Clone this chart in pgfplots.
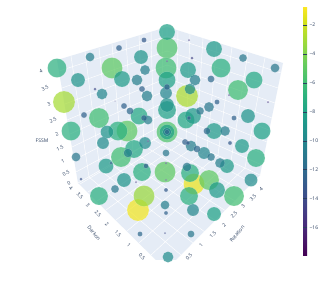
\documentclass[border=0pt]{standalone}
\usepackage{pgfplots}
\usepackage{pgfplotstable}
\usepackage{fontspec}
\setmainfont{Open Sans}
\pgfplotsset{compat=1.18}
\definecolor{pane}{HTML}{E5ECF6}
\definecolor{txt}{HTML}{2A3F5F}
\pgfplotstableread{
x y r v
138 210 11 -1
194 184 10.5 -1.2
64 102 11 -3
187 96 11 -2.8
144 196 10.5 -3.3
112 68 10.5 -5
127 131 10.5 -5
167 48 10.5 -5.5
166 68 10.5 -6
167 132 10.5 -5.5
165 172 10.5 -5
209 180 10 -5
238 90 10 -6
99 118 10 -6
234 196 10 -6
121 157 10 -6
57 68 9.5 -7
221 68 9.5 -7
71 131 9.5 -7
118 131 9.5 -7
189 196 9 -7
256 158 9 -7
99 196 9 -7
190 173 9 -7
142 172 9 -7
167 110 9 -8
134 149 9 -7.5
139 116 8.5 -7.5
186 120 8.5 -7.5
254 80 8.5 -7.5
262 131 8.5 -8
167 80 8.5 -8
167 32 8 -8
214 49 8 -8.5
188 70 8 -8.5
122 79 8 -8.5
214 131 8 -8.5
193 116 8 -8.5
217 190 8 -8.5
167 132 7.5 -8
106 166 7.5 -8.5
141 57 7 -9
78 80 7 -9
248 116 7 -9
124 180 7 -9
167 105 7 -9
214 214 7 -8
242 146 7 -8.5
227 166 7 -8.5
107 132 6.5 -9
251 180 6.5 -9.5
103 143 6 -9.5
166 93 6 -10
193 210 6 -10
204 153 6 -10
145 143 6 -9.5
137 80 5.5 -10.5
102 94 5.5 -10
147 96 5.5 -10.5
195 80 5.5 -10.5
191 146 5.5 -10.5
168 257 5.5 -9.5
190 89 5.5 -9.5
145 70 5 -10.5
209 107 5 -11
225 131 5 -10.5
220 163 5 -10.5
167 132 4.5 -10
90 57 4.5 -10.5
148 120 4.5 -10.5
275 68 4.5 -11
128 153 4.5 -10.5
165 205 4.5 -10.5
76 157 4.5 -11
187 167 4.5 -11
243 58 4 -11
200 111 4 -11
211 157 4 -11
115 189 4 -11
130 111 3.5 -12
207 131 3.5 -12
211 79 3.5 -12
197 149 3.5 -12
166 153 3.5 -11
191 234 3.5 -11
119 48 3 -12.5
142 89 3 -12.5
124 106 3 -12.5
144 118 3 -12.5
84 115 3 -12.5
185 142 3 -12.5
167 87 3 -12.5
144 40 2.5 -13
217 102 2.5 -12.5
234 118 2.5 -12.5
146 166 2.5 -12.5
140 234 2.5 -12
167 132 2.5 -12
189 118 2 -13
188 143 2 -13
230 143 2 -13
166 190 2 -13
166 213 2 -12.5
95 89 1.5 -14
192 58 1.5 -14.5
81 179 1.5 -13.5
111 163 1.5 -13
189 40 1 -15
229 95 1 -15
268 102 1 -15.5
167 61 1 -15
136 182 1 -15
166 163 1 -15
148 141 1 -15
165 233 1 -14
166 180 0.8 -15
115 101 0.5 -15.5
}\bubbles
\pgfplotstableread{
x y
80 184
167 132
nan nan
88 192
176 136
nan nan
97 201
186 140
nan nan
106 210
196 145
nan nan
116 220
207 150
nan nan
127 231
218 155
nan nan
139 243
231 161
nan nan
151 255
245 168
nan nan
181 255
89 177
nan nan
193 243
100 170
nan nan
205 232
111 164
nan nan
216 221
122 158
nan nan
226 211
133 152
nan nan
235 201
144 146
nan nan
244 192
154 140
nan nan
252 183
163 134
nan nan
89 177
71 56
nan nan
100 170
85 52
nan nan
111 164
99 48
nan nan
122 158
112 44
nan nan
133 152
126 39.5
nan nan
144 146
139 35
nan nan
154 140
151 32
nan nan
163 134
162 28.5
nan nan
176 136
178 30
nan nan
186 140
190 34
nan nan
196 145
203 38
nan nan
207 150
217 42
nan nan
218 155
232 47
nan nan
231 161
248 52
nan nan
245 168
265 57.5
nan nan
76 172
167 122.6
262 165
nan nan
74 160
167 112
264 154
nan nan
72 147
167 101
267 142
nan nan
70 134
167 90
269 130
nan nan
67 120
167 78
272 118
nan nan
65 104
167 65
275 103
nan nan
62 88
167 51
278 88
nan nan
59 71
167 36
281 73
nan nan
78 183
167 132
260 175
nan nan
167 132
167 27
}\gridlines
\begin{document}
\begin{tikzpicture}
\begin{axis}[
  width=332pt, height=293pt, scale only axis,
  xmin=0, xmax=332, ymin=0, ymax=293, y dir=reverse,
  hide axis, unbounded coords=jump,
  colormap/viridis, point meta min=-17.9, point meta max=-0.7,
  colorbar,
  colorbar style={
    at={(0.9127,0.9795)}, anchor=north west,
    width=4pt, height=249pt, scale only axis,
    ytick={-16,-14,-12,-10,-8,-6,-4,-2},
    yticklabels={−16,−14,−12,−10,−8,−6,−4,−2},
    yticklabel pos=right,
    yticklabel style={font=\fontsize{5}{6}\selectfont, text=txt, xshift=-1pt},
    major tick length=2pt,
    tick style={color=txt, line width=0.2pt},
    axis line style={draw=none},
    xtick=\empty,
  },
]
\addplot[draw=none, fill=white, forget plot] coordinates {(0,0) (332,0) (332,293) (0,293)} -- cycle;
\addplot[draw=none, fill=pane, forget plot] coordinates {(167,132) (78,183) (166,270) (260,175)} -- cycle;
\addplot[draw=none, fill=pane, forget plot] coordinates {(167,132) (78,183) (57,60) (167,27)} -- cycle;
\addplot[draw=none, fill=pane, forget plot] coordinates {(167,132) (260,175) (283,63) (167,27)} -- cycle;
\addplot[white, line width=0.45pt, forget plot] table {\gridlines};
\addplot[
  scatter, only marks, scatter src=explicit, mark=*,
  scatter/use mapped color={draw=white, draw opacity=0.4, fill=mapped color, fill opacity=0.72},
  visualization depends on={\thisrow{r} \as \rr},
  scatter/@pre marker code/.append style={/tikz/mark size=\rr},
  mark options={line width=0.2pt},
] table[x=x, y=y, meta=v] {\bubbles};
\addplot[draw=none, fill=white, forget plot] coordinates {(0,260) (295,260) (295,293) (0,293)} -- cycle;
\begin{scope}[every node/.style={font=\fontsize{5}{6}\selectfont, text=txt, inner sep=0pt}]
\node[rotate=25] at (axis cs:41,71) {4};
\node[rotate=25] at (axis cs:45,88) {3.5};
\node[rotate=25] at (axis cs:49,104) {3};
\node[rotate=25] at (axis cs:53,120) {2.5};
\node[rotate=25] at (axis cs:57,134) {2};
\node[rotate=25] at (axis cs:60,148) {1.5};
\node[rotate=25] at (axis cs:63,161) {1};
\node[rotate=25] at (axis cs:66,173) {0.5};
\node[rotate=25] at (axis cs:69,183) {0};
\node[rotate=-45] at (axis cs:71,188) {4};
\node[rotate=-45] at (axis cs:80,196) {3.5};
\node[rotate=-45] at (axis cs:88,205) {3};
\node[rotate=-45] at (axis cs:98,214) {2.5};
\node[rotate=-45] at (axis cs:107,224) {2};
\node[rotate=-45] at (axis cs:118,234) {1.5};
\node[rotate=-45] at (axis cs:129,245) {1};
\node[rotate=-45] at (axis cs:142,257) {0.5};
\node[rotate=45] at (axis cs:261,189) {4};
\node[rotate=45] at (axis cs:253,198) {3.5};
\node[rotate=45] at (axis cs:243,206) {3};
\node[rotate=45] at (axis cs:234,215) {2.5};
\node[rotate=45] at (axis cs:224,225) {2};
\node[rotate=45] at (axis cs:213,235) {1.5};
\node[rotate=45] at (axis cs:201,245) {1};
\node[rotate=45] at (axis cs:189,257) {0.5};
\node at (axis cs:42,141) {FSSM};
\node[rotate=-50] at (axis cs:94,233) {Darkon};
\node[rotate=50] at (axis cs:237,234) {Rotation};
\end{scope}
\end{axis}
\end{tikzpicture}
\end{document}
